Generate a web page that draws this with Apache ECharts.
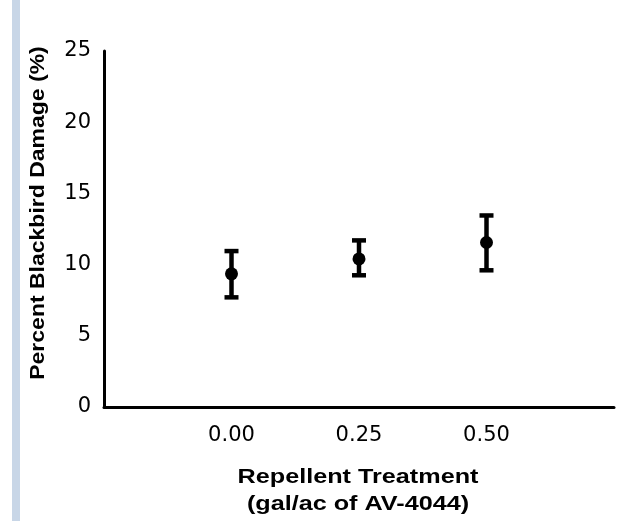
<!DOCTYPE html>
<html><head><meta charset="utf-8">
<script src="https://cdn.jsdelivr.net/npm/echarts@6/dist/echarts.min.js"></script>
<style>html,body{margin:0;padding:0;background:#fff}#c{width:625px;height:521px}</style>
</head><body><div id="c"></div>
<script>
const categories = [0.00, 0.25, 0.50];
const means = [9.35, 10.4, 11.55];
const lower = [7.7, 9.25, 9.6];
const upper = [10.95, 11.7, 13.45];
const yTicks = [0, 5, 10, 15, 20, 25];

const chart = echarts.init(document.getElementById('c'));
const font = '"Liberation Sans", Arial, sans-serif';
const tickFont = '"DejaVu Sans", "Liberation Sans", sans-serif';
chart.setOption({
  animation: false,
  grid: {left: 104, right: 11, top: 51, bottom: 114},
  xAxis: {
    type: 'value', min: -0.25, max: 0.75, interval: 0.25,
    axisLine: {onZero: false, lineStyle: {color: '#000', width: 3}},
    axisTick: {show: false}, splitLine: {show: false},
    axisLabel: {color: '#000', fontSize: 21, fontFamily: tickFont, margin: 18,
      formatter: v => categories.some(c => Math.abs(c - v) < 1e-9) ? v.toFixed(2) : ''}
  },
  yAxis: {
    type: 'value', min: yTicks[0], max: yTicks[yTicks.length-1], interval: 5,
    axisLine: {show: true, onZero: false, lineStyle: {color: '#000', width: 3}},
    axisTick: {show: false}, splitLine: {show: false},
    axisLabel: {color: '#000', fontSize: 21, fontFamily: tickFont, margin: 13}
  },
  graphic: [
    {type: 'rect', shape: {x: 12, y: 0, width: 8, height: 521}, style: {fill: '#c8d6e7'}},
    {type: 'text', x: 38, y: 213, rotation: Math.PI/2, scaleX: 1.095,
      style: {text: 'Percent Blackbird Damage (%)', font: 'bold 21px ' + font, fill: '#000', align: 'center', verticalAlign: 'middle'}},
    {type: 'text', x: 358, y: 477, scaleX: 1.2,
      style: {text: 'Repellent Treatment', font: 'bold 21px ' + font, fill: '#000', align: 'center', verticalAlign: 'middle'}},
    {type: 'text', x: 358, y: 504, scaleX: 1.2,
      style: {text: '(gal/ac of AV-4044)', font: 'bold 21px ' + font, fill: '#000', align: 'center', verticalAlign: 'middle'}}
  ],
  series: [
    {
      type: 'custom',
      data: categories.map((c, i) => [c, lower[i], upper[i]]),
      renderItem: (params, api) => {
        const lo = api.coord([api.value(0), api.value(1)]);
        const hi = api.coord([api.value(0), api.value(2)]);
        const hw = 7;
        const st = {stroke: '#000', lineWidth: 4.5};
        return {type: 'group', children: [
          {type: 'line', shape: {x1: lo[0], y1: lo[1], x2: hi[0], y2: hi[1]}, style: st},
          {type: 'line', shape: {x1: lo[0]-hw, y1: lo[1], x2: lo[0]+hw, y2: lo[1]}, style: st},
          {type: 'line', shape: {x1: hi[0]-hw, y1: hi[1], x2: hi[0]+hw, y2: hi[1]}, style: st}
        ]};
      },
      z: 2
    },
    {
      type: 'scatter', symbol: 'circle', symbolSize: 13,
      itemStyle: {color: '#000', opacity: 1},
      data: categories.map((c, i) => [c, means[i]]),
      z: 3
    }
  ]
});
</script></body></html>
